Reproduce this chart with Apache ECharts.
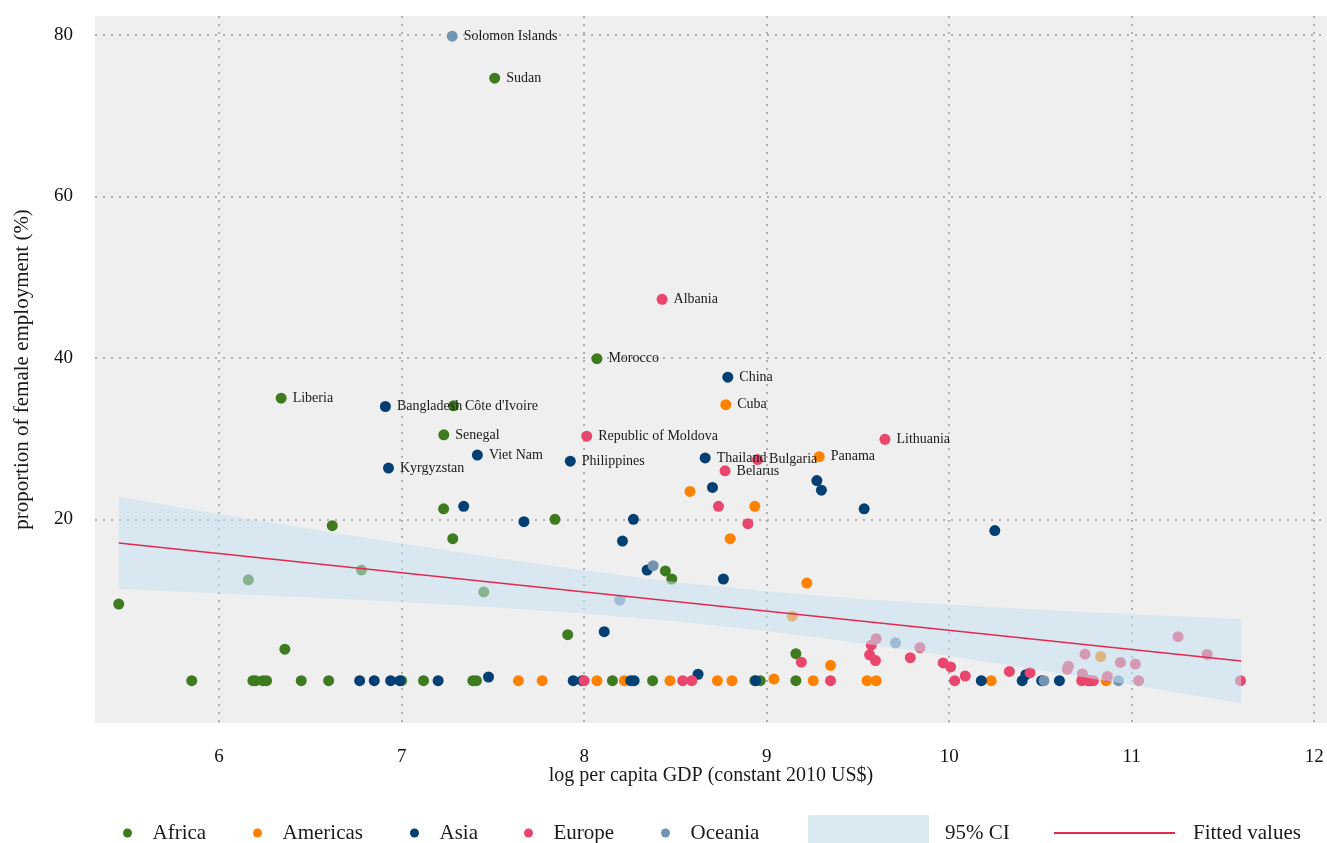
<!DOCTYPE html>
<html>
<head>
<meta charset="utf-8">
<script src="https://cdn.jsdelivr.net/npm/echarts@6/dist/echarts.min.js"></script>
<style>
html, body { margin: 0; padding: 0; background: #ffffff; }
#chart { width: 1327px; height: 843px; }
</style>
</head>
<body>
<div id="chart"></div>
<script>
// ---------- data ----------
const regions = ['Africa', 'Americas', 'Asia', 'Europe', 'Oceania'];

// [log GDP per capita, female employment %, optional label]
const africa = [
  [7.51, 74.65, 'Sudan'], [8.07, 39.9, 'Morocco'], [6.34, 35.0, 'Liberia'],
  [7.284, 34.05, "Côte d'Ivoire"], [7.231, 30.46, 'Senegal'],
  [5.45, 9.5], [6.16, 12.5], [6.62, 19.2], [6.78, 13.7], [7.23, 21.3], [7.28, 17.6],
  [7.45, 11.0], [6.36, 3.9], [7.84, 20.0], [8.445, 13.6], [8.48, 12.6], [7.91, 5.7],
  [9.16, 3.35],
  [5.85, 0], [6.185, 0], [6.20, 0], [6.24, 0], [6.26, 0], [6.45, 0], [6.60, 0],
  [7.00, 0], [7.12, 0], [7.39, 0], [7.41, 0], [8.155, 0], [8.375, 0], [8.935, 0],
  [8.965, 0], [9.16, 0]
];
const americas = [
  [8.776, 34.2, 'Cuba'], [9.288, 27.75, 'Panama'],
  [8.58, 23.45], [8.935, 21.6], [8.80, 17.6], [9.22, 12.1], [9.14, 8.0], [9.35, 1.9],
  [9.04, 0.2], [10.83, 3.0],
  [7.64, 0], [7.77, 0], [8.07, 0], [8.22, 0], [8.47, 0], [8.73, 0], [8.81, 0],
  [9.255, 0], [9.55, 0], [9.60, 0], [10.23, 0], [10.86, 0]
];
const asia = [
  [8.787, 37.6, 'China'], [6.911, 33.97, 'Bangladesh'], [7.415, 27.95, 'Viet Nam'],
  [7.924, 27.2, 'Philippines'], [8.663, 27.6, 'Thailand'], [6.928, 26.34, 'Kyrgyzstan'],
  [9.275, 24.8], [9.30, 23.6], [8.703, 23.95], [9.534, 21.3], [10.25, 18.6], [7.34, 21.6],
  [7.67, 19.7], [8.27, 20.0], [8.21, 17.3], [8.345, 13.7], [8.763, 12.6], [8.11, 6.07],
  [7.476, 0.46], [8.624, 0.8], [10.42, 0.74],
  [6.77, 0], [6.85, 0], [6.94, 0], [6.99, 0], [7.20, 0], [7.94, 0], [7.99, 0],
  [8.255, 0], [8.274, 0], [8.94, 0], [10.176, 0], [10.40, 0], [10.507, 0], [10.604, 0],
  [10.77, 0]
];
const europe = [
  [8.427, 47.25, 'Albania'], [8.014, 30.3, 'Republic of Moldova'], [9.648, 29.9, 'Lithuania'],
  [8.95, 27.4, 'Bulgaria'], [8.772, 26.0, 'Belarus'],
  [8.736, 21.6], [8.897, 19.45], [9.19, 2.3], [9.573, 4.4], [9.60, 5.2], [9.564, 3.2],
  [9.596, 2.5], [9.787, 2.85], [9.84, 4.1], [9.967, 2.2], [10.008, 1.7], [10.088, 0.58],
  [10.33, 1.15], [10.443, 0.99], [10.647, 1.45], [10.653, 1.8], [10.73, 0.83],
  [10.744, 3.3], [10.867, 0.53], [10.938, 2.27], [11.02, 2.06], [11.254, 5.45],
  [11.413, 3.26],
  [8.0, 0], [8.54, 0], [8.59, 0], [9.35, 0], [10.03, 0], [10.726, 0], [10.76, 0],
  [10.79, 0], [11.038, 0], [11.596, 0]
];
const oceania = [
  [7.277, 79.85, 'Solomon Islands'],
  [8.378, 14.25], [8.195, 10.0], [9.706, 4.7], [10.519, 0], [10.927, 0]
];

// fitted line and 95% confidence band
const fitX = [5.45, 11.6];
const fitY = [17.05, 2.43];
const ciX    = [5.45, 6.0, 6.5, 7.0, 7.5, 8.0, 8.5, 9.0, 9.5, 10.0, 10.5, 11.0, 11.6];
const ciHigh = [22.75, 20.66, 18.80, 16.99, 15.25, 13.64, 12.23, 11.07, 10.14, 9.41, 8.79, 8.24, 7.63];
const ciLow  = [11.35, 10.82, 10.30, 9.75, 9.11, 8.34, 7.37, 6.15, 4.70, 3.07, 1.31, -0.52, -2.77];

// tick labels
const xTicks = [6, 7, 8, 9, 10, 11, 12];
const yTicks = [20, 40, 60, 80];

// ---------- styling ----------
const SERIF = "'Liberation Serif', 'Times New Roman', serif";
const regionColors = ['#3e7a1e', '#fe8200', '#023f73', '#e8466c', '#7293b2'];
const regionData = [africa, americas, asia, europe, oceania];
const legendCenters = [127, 257, 414, 528, 665];

function toItems(arr) {
  return arr.map(function (d) {
    if (d.length > 2) {
      return { value: [d[0], d[1]], label: { show: true, formatter: d[2] } };
    }
    return { value: [d[0], d[1]] };
  });
}

const series = regions.map(function (r, i) {
  return {
    name: r,
    type: 'scatter',
    data: toItems(regionData[i]),
    symbol: 'circle',
    symbolSize: 11,
    itemStyle: { color: regionColors[i], opacity: 1 },
    z: 2,
    label: {
      show: false,
      position: 'right',
      distance: 6,
      fontFamily: SERIF,
      fontSize: 14,
      color: '#1a1a1a'
    },
    emphasis: { disabled: true }
  };
});

series.push({
  name: '95% CI',
  type: 'custom',
  z: 3,
  silent: true,
  clip: true,
  itemStyle: { color: '#dbe9f1' },
  data: ciX.map(function (x, i) { return [x, ciLow[i], ciHigh[i]]; }),
  encode: { x: 0, y: [1, 2] },
  renderItem: function (params, api) {
    if (params.dataIndex !== 0) return null;
    const pts = [];
    for (let i = 0; i < ciX.length; i++) pts.push(api.coord([ciX[i], ciHigh[i]]));
    for (let i = ciX.length - 1; i >= 0; i--) pts.push(api.coord([ciX[i], ciLow[i]]));
    return {
      type: 'polygon',
      shape: { points: pts },
      style: { fill: 'rgba(198,225,240,0.54)' }
    };
  }
});

series.push({
  name: 'Fitted values',
  type: 'line',
  z: 4,
  silent: true,
  symbol: 'none',
  showSymbol: false,
  data: fitX.map(function (x, i) { return [x, fitY[i]]; }),
  lineStyle: { color: '#e2294f', width: 1.5 },
  itemStyle: { color: '#e2294f' }
});

const legendText = { fontFamily: SERIF, fontSize: 21, color: '#1a1a1a', lineHeight: 24 };
const legends = regions.map(function (r, i) {
  return {
    data: [r],
    left: legendCenters[i] - 4,
    top: 821,
    padding: 0,
    itemWidth: 40,
    itemHeight: 9,
    icon: 'circle',
    selectedMode: false,
    textStyle: legendText
  };
});
legends.push({
  data: [{ name: '95% CI', icon: 'rect', itemStyle: { color: '#dbe9f1' } }],
  left: 808, top: 815, padding: 0,
  itemWidth: 121, itemHeight: 36,
  selectedMode: false,
  textStyle: Object.assign({}, legendText, { padding: [0, 0, 0, 11] })
});
legends.push({
  data: [{ name: 'Fitted values', icon: 'rect', itemStyle: { color: '#e2294f' } }],
  left: 1054, top: 821, padding: 0,
  itemWidth: 121, itemHeight: 2,
  selectedMode: false,
  textStyle: Object.assign({}, legendText, { padding: [0, 0, 0, 13] })
});

const gridLine = { show: true, lineStyle: { type: [2, 6], color: '#9a9a9a', width: 1.5 } };

const option = {
  animation: false,
  backgroundColor: '#ffffff',
  grid: {
    left: 95, right: 0, top: 16, bottom: 120,
    show: true, backgroundColor: '#efefef', borderWidth: 0
  },
  xAxis: {
    type: 'value',
    min: 5.32, max: 12.07,
    name: 'log per capita GDP (constant 2010 US$)',
    nameLocation: 'middle',
    nameGap: 43,
    nameMoveOverlap: false,
    nameTextStyle: { fontFamily: SERIF, fontSize: 20, color: '#1a1a1a' },
    axisLine: { show: false },
    axisTick: { show: false, customValues: xTicks },
    axisLabel: { customValues: xTicks, margin: 25, fontFamily: SERIF, fontSize: 19, color: '#111' },
    splitLine: gridLine
  },
  yAxis: {
    type: 'value',
    min: -5.24, max: 82.35,
    name: 'proportion of female employment (%)',
    nameLocation: 'middle',
    nameGap: 62,
    nameMoveOverlap: false,
    nameTextStyle: { fontFamily: SERIF, fontSize: 21, color: '#1a1a1a' },
    axisLine: { show: false },
    axisTick: { show: false, customValues: yTicks },
    axisLabel: { customValues: yTicks, margin: 22, fontFamily: SERIF, fontSize: 19, color: '#111' },
    splitLine: gridLine
  },
  legend: legends,
  series: series
};

const chart = echarts.init(document.getElementById('chart'), null, { renderer: 'canvas' });
chart.setOption(option);
</script>
</body>
</html>
